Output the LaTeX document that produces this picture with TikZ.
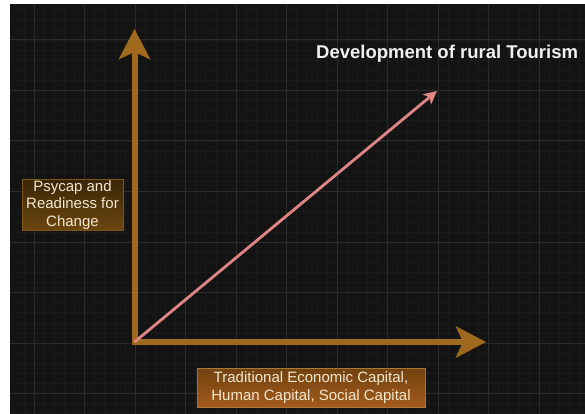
\documentclass[tikz,border=0pt]{standalone}
\usepackage{fontspec}
\setmainfont{Liberation Sans}
\usepackage{tikz}
\usetikzlibrary{arrows.meta}
\usepackage{xcolor}

\definecolor{bgdark}{HTML}{131313}
\definecolor{gridminor}{HTML}{1A1A1A}
\definecolor{gridmajor}{HTML}{2B2B2B}
\definecolor{axisbrown}{HTML}{A06A1E}
\definecolor{growthpink}{HTML}{E08585}
\definecolor{labelcream}{HTML}{F2E8CF}

\begin{document}
\begin{tikzpicture}[x=1pt,y=-1pt,
  minorline/.style={gridminor, line width=0.6pt},
  majorline/.style={gridmajor, line width=1pt},
  axisline/.style={axisbrown, line width=6pt, line cap=rect, -{Stealth[length=30pt,width=31pt,inset=7pt]}},
  capbox/.style={draw, line width=0.8pt, text=labelcream, align=center, inner sep=0pt,
    font=\fontsize{15}{17.5}\selectfont}]
\useasboundingbox (0,0) rectangle (585,414);
\fill [bgdark] (10,4) rectangle (585,414);

% grid, lined up on the corner of the axes
\foreach \k in {-12,...,44} \draw [minorline] ({135+\k*10.1},4) -- ++(0,410);
\foreach \k in {-33,...,7} \draw [minorline] (10,{343+\k*10.1}) -- ++(575,0);
\foreach \k in {-2,...,8} \draw [majorline] ({135+\k*50.5},4) -- ++(0,410);
\foreach \k in {-6,...,1} \draw [majorline] (10,{343+\k*50.5}) -- ++(575,0);

\coordinate (O) at (134.5,342);    % corner
\coordinate (ytip) at (134.5,29);  % top of vertical axis
\coordinate (xtip) at (486,342);   % end of horizontal axis
\coordinate (dtip) at (437,91);    % end of growth line

\draw [axisline] (O) -- (ytip);
\draw [axisline] (O) -- (xtip);
\draw [growthpink, line width=2.8pt, -{Stealth[length=13pt,width=13pt,inset=3pt]}] (O) -- (dtip);

\node [anchor=west, inner sep=0pt, text=white!94!black, font=\bfseries\fontsize{18.5}{20}\selectfont] (title) at (316,54) {Development of rural Tourism};

\node [capbox, draw=axisbrown!80!black, top color={rgb,255:red,58;green,38;blue,7}, bottom color={rgb,255:red,108;green,70;blue,16},
  minimum width=101pt, minimum height=51pt] (psycap) at (72.5,205) {Psycap and\\Readiness for\\Change};
\node [capbox, draw=axisbrown!90!white, top color={rgb,255:red,112;green,66;blue,16}, bottom color={rgb,255:red,164;green,90;blue,28},
  minimum width=228pt, minimum height=39pt] (capital) at (311,387.5) {Traditional Economic Capital,\\Human Capital, Social Capital};

\end{tikzpicture}
\end{document}
